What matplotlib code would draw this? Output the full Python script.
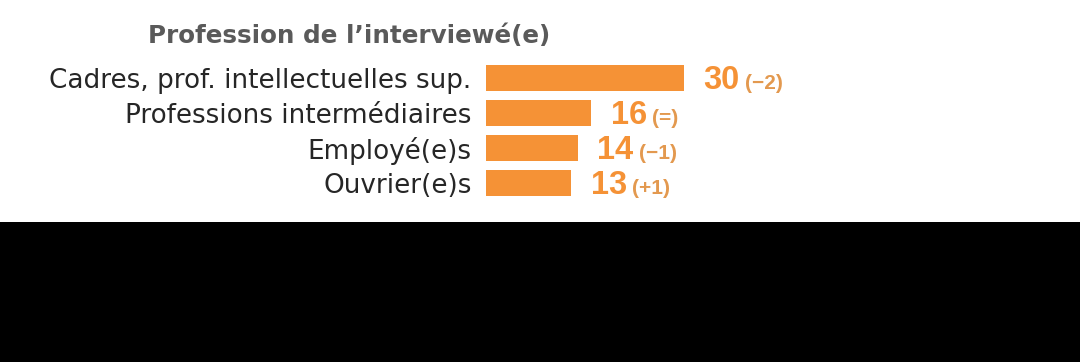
import matplotlib.pyplot as plt
from matplotlib.patches import Rectangle

categories = ["Cadres, prof. intellectuelles sup.", "Professions intermédiaires",
              "Employé(e)s", "Ouvrier(e)s"]
values = [30, 16, 14, 13]
changes = ["(\u22122)", "(=)", "(\u22121)", "(+1)"]

orange = "#F59236"
light_orange = "#E3994F"
grey = "#5A5A5A"

fig = plt.figure(figsize=(10.8, 3.62), dpi=100)
fig.patch.set_facecolor("white")

# black band at the bottom of the screenshot
fig.add_artist(Rectangle((0, 0), 1, 140 / 362, transform=fig.transFigure,
                         facecolor="black", edgecolor="none", zorder=0))

ax = fig.add_axes([485.5 / 1080, 1 - 200.5 / 362, 528 / 1080, 140.2 / 362])
ax.set_facecolor("none")
pos = list(range(len(values)))
ax.barh(pos, values, height=0.74, color=orange)
ax.set_xlim(0, 80)
ax.set_ylim(3.5, -0.5)

ax.set_yticks(pos)
ax.set_yticklabels(categories, fontsize=18.9, color="#262626", family="DejaVu Sans")
ax.tick_params(axis="y", length=0, pad=10)
ax.set_xticks([])
for s in ax.spines.values():
    s.set_visible(False)

for i, (v, c) in enumerate(zip(values, changes)):
    t = ax.annotate(str(v), (v, i), xytext=(14, -2), textcoords="offset points",
                    ha="left", va="center", fontsize=23.5, fontweight="bold",
                    color=orange, family="Liberation Sans")
    ax.annotate(c, xy=(1, 0), xycoords=t, xytext=(4, 5),
                textcoords="offset points", ha="left", va="baseline",
                fontsize=15, fontweight="bold", color=light_orange,
                family="Liberation Sans")

fig.text(148 / 1080, 1 - 36 / 362, "Profession de l\u2019interviewé(e)",
         fontsize=17.7, fontweight="bold", color=grey, ha="left", va="center",
         family="DejaVu Sans")

fig.savefig("out.png", dpi=100)
